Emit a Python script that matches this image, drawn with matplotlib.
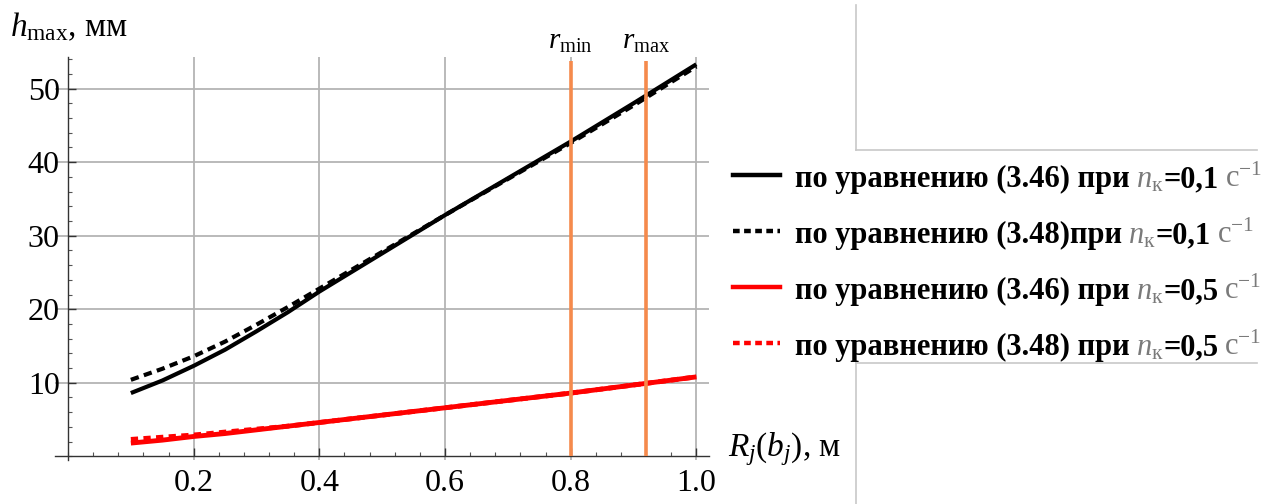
"""plot.py

h_max от R_j(b_j) при n_к = 0,1 и 0,5 с^-1, уравнения (3.46) и (3.48)
"""

import matplotlib.pyplot as plt
from matplotlib.lines import Line2D
from matplotlib.ticker import MultipleLocator

plt.rcParams['font.family'] = ['Liberation Serif', 'DejaVu Serif']
plt.rcParams['mathtext.fontset'] = 'custom'
plt.rcParams['mathtext.rm'] = 'Liberation Serif'
plt.rcParams['mathtext.it'] = 'Liberation Serif:italic'
plt.rcParams['mathtext.bf'] = 'Liberation Serif:bold'

# данные
R = [0.1, 0.15, 0.2, 0.25, 0.3, 0.35, 0.4, 0.5, 0.6, 0.7, 0.8, 0.9, 1.0]
h_346_01 = [8.6, 10.3, 12.3, 14.5, 17.0, 19.6, 22.4, 27.6, 32.8, 37.8, 42.8, 48.0, 53.3]
h_348_01 = [10.4, 11.9, 13.6, 15.6, 17.9, 20.3, 22.8, 27.8, 32.8, 37.7, 42.6, 47.7, 53.0]
h_346_05 = [1.8, 2.2, 2.7, 3.1, 3.6, 4.1, 4.6, 5.6, 6.6, 7.6, 8.6, 9.7, 10.8]
h_348_05 = [2.3, 2.6, 2.9, 3.3, 3.7, 4.1, 4.6, 5.6, 6.6, 7.6, 8.6, 9.7, 10.8]

r_lines = [0.8, 0.92]
r_names = ['min', 'max']

labels = [
    'по уравнению (3.46) при',
    'по уравнению (3.48)при',
    'по уравнению (3.46) при',
    'по уравнению (3.48) при',
]
n_values = ['0,1', '0,1', '0,5', '0,5']
colors = ['black', 'black', 'red', 'red']
dashed = [False, True, False, True]

ORANGE = '#f58a4c'
GRAY = '#7a7a7a'
W, H = 1275, 504

fig = plt.figure(figsize=(12.75, 5.04), dpi=100)
ax = fig.add_axes([0.0435, 0.0873, 0.5125, 0.7997])

ax.plot(R, h_346_01, color='black', lw=3.0, solid_capstyle='butt')
ax.plot(R, h_348_01, color='black', lw=3.0, ls=(0, (2.0, 1.3)))
ax.plot(R, h_346_05, color='red', lw=3.5, solid_capstyle='butt')
ax.plot(R, h_348_05, color='red', lw=3.5, ls=(0, (1.5, 1.1)))

for x, name in zip(r_lines, r_names):
    ax.vlines(x, 0, 53.7, color=ORANGE, lw=2.6, zorder=3)
    ax.text(x, 54.6, rf'$r_{{\mathrm{{{name}}}}}$', ha='center', va='bottom',
            fontsize=21, clip_on=False)

ax.set_xlim(-0.02, 1.02)
ax.set_ylim(-0.5, 54.3)
ax.spines['left'].set_position(('data', 0))
ax.spines['bottom'].set_position(('data', 0))
for s in ['top', 'right']:
    ax.spines[s].set_visible(False)
for s in ['left', 'bottom']:
    ax.spines[s].set_color('#333333')
    ax.spines[s].set_linewidth(1.0)

ax.set_xticks([0.2, 0.4, 0.6, 0.8, 1.0])
ax.set_xticklabels(['0.2', '0.4', '0.6', '0.8', '1.0'])
ax.set_yticks([10, 20, 30, 40, 50])
ax.xaxis.set_minor_locator(MultipleLocator(0.04))
ax.yaxis.set_minor_locator(MultipleLocator(2))
ax.tick_params(which='major', direction='in', length=6, width=1, labelsize=23,
               color='#333333')
ax.tick_params(which='minor', direction='in', length=3, width=0.8, color='#555555')
ax.tick_params(axis='x', pad=9)
ax.tick_params(axis='y', pad=6)
ax.grid(True, which='major', color='#b4b4b4', lw=1.3)
ax.set_axisbelow(True)

# подписи осей
fig.text(10 / W, 1 - 36 / H, r'$h_{\mathrm{max}}$, мм', fontsize=24, va='baseline')
fig.text(728 / W, 1 - 456 / H, r'$R_j(b_j)$, м', fontsize=24, va='baseline')

# легенда (рисуется вручную: серые n_к и с^-1)
renderer = fig.canvas.get_renderer()
row_y = [175, 231, 287, 343]
fs = 22
for y, lab, n, c, d in zip(row_y, labels, n_values, colors, dashed):
    ls = (0, (1.5, 1.0)) if d else '-'
    fig.add_artist(Line2D([733 / W, 780 / W], [1 - y / H, 1 - y / H],
                          color=c, lw=3.2, ls=ls))
    parts = [
        (lab, 'black', 'bold', 6),
        (r'$n_{\mathrm{к}}$', GRAY, 'normal', 0),
        ('=' + n, 'black', 'bold', 6),
        ('с' + r'$^{-1}$', GRAY, 'normal', 0),
    ]
    x = 795
    for txt, col, wt, gap in parts:
        t = fig.text(x / W, 1 - (y + 12) / H, txt, color=col, fontweight=wt,
                     fontsize=fs, va='baseline')
        x += t.get_window_extent(renderer).width + gap

# серые рамки справа
frame = dict(color='#c8c8c8', lw=1.2)
fig.add_artist(Line2D([856 / W, 856 / W], [1 - 5 / H, 1 - 150 / H], **frame))
fig.add_artist(Line2D([856 / W, 1257 / W], [1 - 150 / H, 1 - 150 / H], **frame))
fig.add_artist(Line2D([856 / W, 1257 / W], [1 - 363 / H, 1 - 363 / H], **frame))
fig.add_artist(Line2D([856 / W, 856 / W], [1 - 363 / H, 0], **frame))

fig.savefig('out.png', dpi=100)
